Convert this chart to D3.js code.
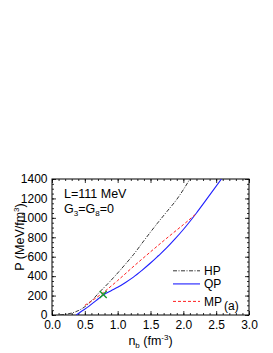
<!DOCTYPE html>
<html>
<head>
<meta charset="utf-8">
<script src="https://cdn.jsdelivr.net/npm/d3@7"></script>
<style>
  body { margin: 0; background: #fff; }
  svg text { font-family: "Liberation Sans", Arial, sans-serif; }
</style>
</head>
<body>
<div id="chart"></div>
<script>
var width = 273, height = 353;
var margin = { top: 179, right: 24, bottom: 38, left: 52 };
var w = width - margin.left - margin.right;
var h = height - margin.top - margin.bottom;

// n_b (fm^-3), P (MeV/fm^3)
var hpN = [0.12, 0.2, 0.3, 0.4, 0.5, 0.6, 0.73, 0.85, 1.0, 1.12, 1.24, 1.4, 1.6, 1.75, 1.9, 2.0, 2.1];
var hpP = [0, 6, 20, 45, 85, 145, 240, 322, 432, 525, 621, 765, 940, 1065, 1190, 1290, 1400];
var qpN = [0.37, 0.45, 0.56, 0.67, 0.78, 0.9, 1.0, 1.12, 1.24, 1.37, 1.5, 1.62, 1.745, 1.87, 2.0, 2.2, 2.35, 2.58];
var qpP = [0, 38, 89, 148, 205, 250, 285, 335, 390, 460, 535, 610, 690, 780, 880, 1050, 1187, 1400];
var mpN = [0.5, 0.75, 1.0, 1.25, 1.5, 1.75, 2.0, 2.18];
var mpP = [100, 215, 355, 505, 650, 792, 930, 1033];
var markN = 0.78, markP = 212;
var legendNames = ["HP", "QP", "MP"];

var svg = d3.select("#chart").append("svg")
    .attr("width", width)
    .attr("height", height);

var g = svg.append("g")
    .attr("transform", "translate(" + margin.left + "," + margin.top + ")");

var x = d3.scaleLinear().domain([0, 3]).range([0, w]);
var y = d3.scaleLinear().domain([0, 1400]).range([h, 0]);

function ticksAxis(axis, scale, major, minor, fmt, pad) {
    var ma = axis(scale).tickValues(d3.range(scale.domain()[0], scale.domain()[1] + 1e-9, major))
        .tickSizeInner(-4).tickSizeOuter(0).tickPadding(pad).tickFormat(fmt);
    var mi = axis(scale).tickValues(d3.range(scale.domain()[0], scale.domain()[1] + 1e-9, minor))
        .tickSizeInner(-2).tickSizeOuter(0).tickFormat("");
    return [ma, mi];
}

var xa = ticksAxis(d3.axisBottom, x, 0.5, 0.1, d3.format(".1f"), 5.5);
var ya = ticksAxis(d3.axisLeft, y, 200, 50, d3.format("d"), 4);

g.append("g").attr("class", "axis").attr("transform", "translate(0," + h + ")").call(xa[1]);
g.append("g").attr("class", "axis lab").attr("transform", "translate(0," + h + ")").call(xa[0]);
g.append("g").attr("class", "axis").call(ya[1]);
g.append("g").attr("class", "axis lab ylab").call(ya[0]);
g.append("g").attr("class", "axis").call(d3.axisTop(x).tickValues(d3.range(0, 3.01, 0.1)).tickSizeInner(-2).tickSizeOuter(0).tickFormat(""));
g.append("g").attr("class", "axis").call(d3.axisTop(x).tickValues(d3.range(0, 3.01, 0.5)).tickSizeInner(-4).tickSizeOuter(0).tickFormat(""));
g.append("g").attr("class", "axis").attr("transform", "translate(" + w + ",0)")
    .call(d3.axisRight(y).tickValues(d3.range(0, 1401, 50)).tickSizeInner(-2).tickSizeOuter(0).tickFormat(""));
g.append("g").attr("class", "axis").attr("transform", "translate(" + w + ",0)")
    .call(d3.axisRight(y).tickValues(d3.range(0, 1401, 200)).tickSizeInner(-4).tickSizeOuter(0).tickFormat(""));

g.selectAll(".axis .domain").remove();
g.selectAll(".axis line").attr("stroke", "#000").attr("stroke-width", 0.8);
g.selectAll(".lab text").style("font-size", "12px").attr("fill", "#000");
g.selectAll(".ylab text").attr("x", -4.5);

g.append("rect").attr("width", w).attr("height", h)
    .attr("fill", "none").attr("stroke", "#000").attr("stroke-width", 1);

var line = d3.line()
    .x(function(d) { return x(d[0]); })
    .y(function(d) { return y(d[1]); })
    .curve(d3.curveMonotoneX);

function pairs(n, p) { return n.map(function(v, i) { return [v, p[i]]; }); }

g.append("clipPath").attr("id", "clip").append("rect").attr("width", w).attr("height", h);
var plot = g.append("g").attr("clip-path", "url(#clip)");

plot.append("path").datum(pairs(hpN, hpP)).attr("d", line)
    .attr("fill", "none").attr("stroke", "#000").attr("stroke-width", 0.8)
    .attr("stroke-dasharray", "4,1.5,1,1.5");
plot.append("path").datum(pairs(qpN, qpP)).attr("d", line)
    .attr("fill", "none").attr("stroke", "#1f1fff").attr("stroke-width", 1.1);
plot.append("path").datum(pairs(mpN, mpP)).attr("d", line)
    .attr("fill", "none").attr("stroke", "#ff2020").attr("stroke-width", 1)
    .attr("stroke-dasharray", "3,2");

// green cross
var mx = x(markN), my = y(markP);
g.append("path")
    .attr("d", "M" + (mx - 3.5) + "," + (my - 3.5) + "L" + (mx + 3.5) + "," + (my + 3.5) +
               "M" + (mx - 3.5) + "," + (my + 3.5) + "L" + (mx + 3.5) + "," + (my - 3.5))
    .attr("stroke", "#1a9a2a").attr("stroke-width", 1.4);

// legend
var legStyles = [
    { stroke: "#000", dash: "4,1.5,1,1.5", sw: 0.8 },
    { stroke: "#1f1fff", dash: null, sw: 1.1 },
    { stroke: "#ff2020", dash: "3,2", sw: 1 }
];
var legY = [y(455), y(320), y(140)];
legendNames.forEach(function(name, i) {
    g.append("line").attr("x1", 121).attr("x2", 148).attr("y1", legY[i]).attr("y2", legY[i])
        .attr("stroke", legStyles[i].stroke).attr("stroke-width", legStyles[i].sw)
        .attr("stroke-dasharray", legStyles[i].dash);
    g.append("text").attr("x", 152).attr("y", legY[i] + 4.5)
        .style("font-size", "12px").text(name);
});
g.append("text").attr("x", 172).attr("y", 131).style("font-size", "12px").text("(a)");

// annotations
g.append("text").attr("x", 12).attr("y", 19).style("font-size", "12.5px").text("L=111 MeV");
var gt = g.append("text").attr("x", 12).attr("y", 34).style("font-size", "12.5px");
gt.append("tspan").text("G");
gt.append("tspan").attr("dy", 3).style("font-size", "8px").text("3");
gt.append("tspan").attr("dy", -3).text("=G");
gt.append("tspan").attr("dy", 3).style("font-size", "8px").text("8");
gt.append("tspan").attr("dy", -3).text("=0");

// axis titles
var xt = svg.append("text").attr("x", margin.left + w / 2).attr("y", 345)
    .attr("text-anchor", "middle").style("font-size", "12.5px");
xt.append("tspan").text("n");
xt.append("tspan").attr("dy", 3).style("font-size", "8px").text("b");
xt.append("tspan").attr("dy", -3).text(" (fm");
xt.append("tspan").attr("dy", -5).style("font-size", "8px").text("-3");
xt.append("tspan").attr("dy", 5).text(")");

var yt = svg.append("text")
    .attr("transform", "translate(24,237) rotate(-90)")
    .attr("text-anchor", "middle").style("font-size", "12.5px");
yt.append("tspan").text("P (MeV/fm");
yt.append("tspan").attr("dy", -5).style("font-size", "8px").text("3");
yt.append("tspan").attr("dy", 5).text(")");
</script>
</body>
</html>
